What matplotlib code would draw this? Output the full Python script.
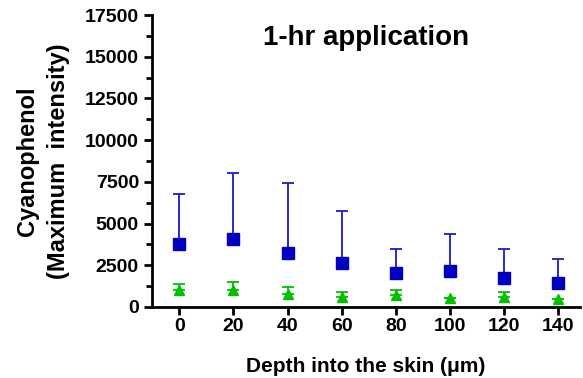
import matplotlib.pyplot as plt
import numpy as np

plt.rcParams['font.family'] = ['Liberation Sans', 'DejaVu Sans']
plt.rcParams['font.weight'] = 'bold'

depth = [0, 20, 40, 60, 80, 100, 120, 140]

# blue squares: mean and upper error (SD)
blue_mean = [3750, 4100, 3250, 2650, 2050, 2150, 1750, 1450]
blue_err = [3000, 3950, 4200, 3100, 1400, 2250, 1750, 1450]

# green triangles
green_mean = [1000, 1000, 800, 600, 700, 550, 600, 450]
green_err = [400, 500, 400, 300, 300, 0, 300, 0]

fig = plt.figure(figsize=(5.83, 3.78), dpi=100)
ax = fig.add_axes([0.261, 0.188, 0.734, 0.772])

ax.errorbar(depth, blue_mean, yerr=[[0]*8, blue_err], fmt='s', color='#0000c0',
            ecolor='#1a1ac8', elinewidth=1.3, capsize=4, capthick=1.3,
            markersize=8)
ax.errorbar(depth, green_mean, yerr=[[0]*8, green_err], fmt='^', color='#00c000',
            ecolor='#00c000', elinewidth=1.3, capsize=4, capthick=1.3,
            markersize=7.5)

ax.set_xlim(-10, 148)
ax.set_ylim(0, 17500)
ax.set_xticks(depth)
ax.set_yticks(np.arange(0, 17501, 2500))
ax.set_yticks(np.arange(1250, 17500, 2500), minor=True)

for s in ['top', 'right']:
    ax.spines[s].set_visible(False)
for s in ['left', 'bottom']:
    ax.spines[s].set_linewidth(2)

ax.tick_params(axis='both', which='major', direction='out', length=6, width=2,
               labelsize=14)
ax.tick_params(axis='y', which='minor', direction='out', length=4, width=2)
ax.tick_params(axis='x', pad=2)

ax.set_xlabel('Depth into the skin (\u03bcm)', fontsize=15, fontweight='bold',
              labelpad=16)
ax.set_ylabel('Cyanophenol\n(Maximum  intensity)', fontsize=17,
              fontweight='bold', labelpad=11, linespacing=1.4)
ax.text(0.5, 0.92, '1-hr application', transform=ax.transAxes, ha='center',
        va='center', fontsize=20, fontweight='bold')

fig.savefig('out.png', dpi=100)
